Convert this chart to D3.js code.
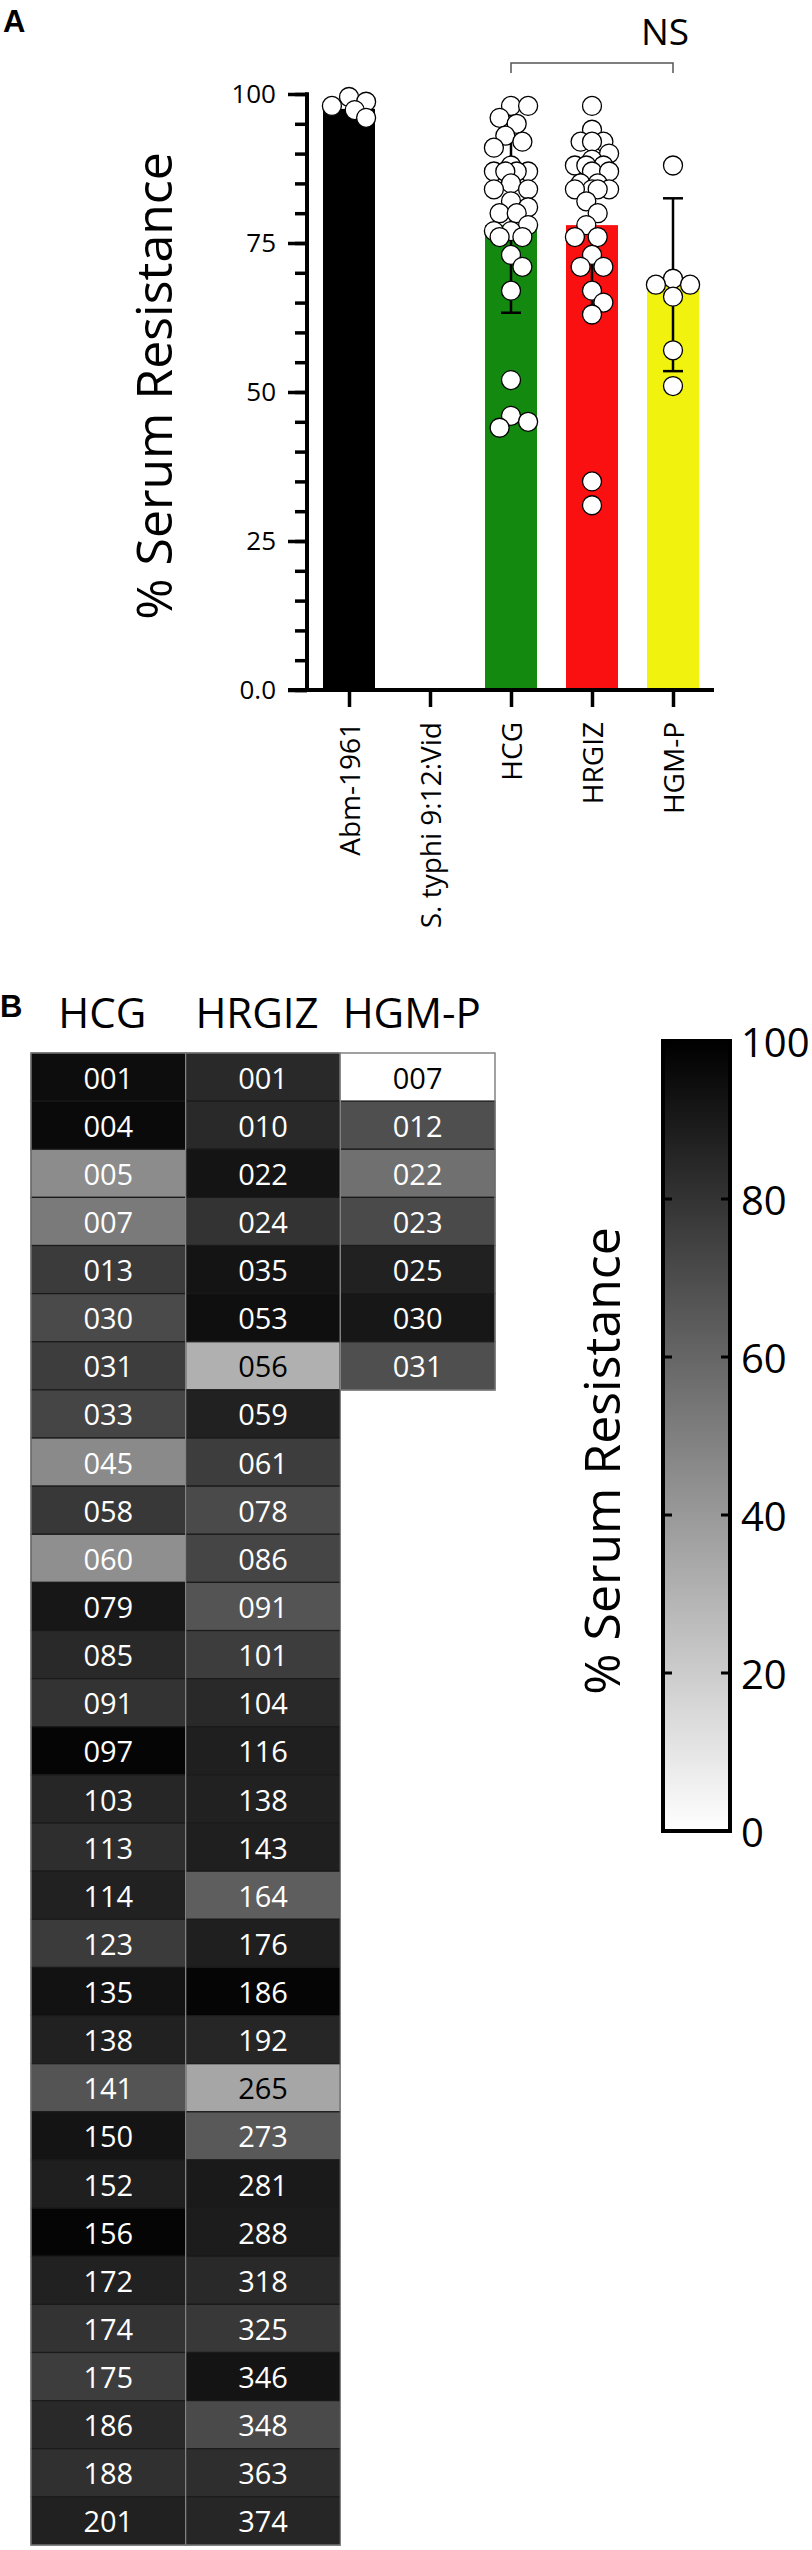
<!DOCTYPE html>
<html><head><meta charset="utf-8">
<script src="https://cdn.jsdelivr.net/npm/d3@7"></script>
<style>body{margin:0;background:#fff} svg{display:block}</style>
</head><body>
<script>
// ---------- Panel A data ----------
const categories = ["Abm-1961", "S. typhi 9:12:Vid", "HCG", "HRGIZ", "HGM-P"];
const barMeans = [97.5, 0, 78, 78, 68];
const barSD = [null, null, 14.7, 14.7, 14.5];
const barColors = ["#000000", "#ffffff", "#138a0f", "#fa1010", "#f2f20f"];
const abmDots = [98, 96, 97.3, 98.7, 99.5];
const hgmpDots = [88, 69, 68, 68, 66, 57, 51];
const yTicksA = [0, 25, 50, 75, 100];
const yTickLabelsA = ["0.0", "25", "50", "75", "100"];

// ---------- Panel B data ----------
const groups = ["HCG", "HRGIZ", "HGM-P"];
const hcgIsolates = ["001","004","005","007","013","030","031","033","045","058","060","079","085","091","097","103","113","114","123","135","138","141","150","152","156","172","174","175","186","188","201"];
const hcgValues   = [95, 96, 45, 52, 77, 71, 76, 73, 46, 78, 44, 91, 84, 80, 98, 85, 82, 87, 77, 93, 87, 67, 92, 88, 98, 87, 80, 76, 84, 81, 87];
const hrgizIsolates = ["001","010","022","024","035","053","056","059","061","078","086","091","101","104","116","138","143","164","176","186","192","265","273","281","288","318","325","346","348","363","374"];
const hrgizValues   = [84, 84, 92, 80, 92, 94, 31, 87, 76, 71, 73, 67, 76, 84, 88, 87, 88, 63, 88, 98, 85, 35, 65, 90, 89, 84, 78, 92, 71, 82, 85];
const hgmpIsolates = ["007","012","022","023","025","030","031"];
const hgmpValues   = [0, 69, 56, 71, 87, 91, 69];
const colorbarTicks = [0, 20, 40, 60, 80, 100];

const FONT = "'Open Sans', 'Noto Sans', sans-serif";
const W = 812, H = 2550;
const svg = d3.select("body").append("svg").attr("width", W).attr("height", H)
  .style("font-family", FONT);

// ================= PANEL A =================
const y = d3.scaleLinear().domain([0, 100]).range([690, 94]);
const x = d3.scalePoint().domain(categories).range([349, 673]);
const barW = 52, R = 9.5;
const axisX = 307;

svg.append("text").attr("x", 3).attr("y", 32).text("A")
  .style("font-family", "'Liberation Sans', Arial, sans-serif").style("font-weight", "bold").style("font-size", "31px");

// bars
const gA = svg.append("g");
gA.selectAll("rect.bar").data(categories).join("rect")
  .attr("x", d => x(d) - barW / 2).attr("width", barW)
  .attr("y", (d, i) => y(barMeans[i])).attr("height", (d, i) => y(0) - y(barMeans[i]))
  .attr("fill", (d, i) => barColors[i]);

// error bars
categories.forEach((c, i) => {
  if (barSD[i] == null) return;
  const lo = y(barMeans[i] - barSD[i]), hi = y(barMeans[i] + barSD[i]);
  const g = gA.append("g").attr("stroke", "#000").attr("stroke-width", 2.5);
  g.append("line").attr("x1", x(c)).attr("x2", x(c)).attr("y1", lo).attr("y2", hi);
  g.append("line").attr("x1", x(c) - 10).attr("x2", x(c) + 10).attr("y1", lo).attr("y2", lo);
  g.append("line").attr("x1", x(c) - 10).attr("x2", x(c) + 10).attr("y1", hi).attr("y2", hi);
});

// scatter with deterministic swarm layout
function swarm(values, cx, r, maxHalf) {
  const placed = [];
  const order = values.map((v, i) => ({ v, i })).sort((a, b) => b.v - a.v);
  const step = r * 0.6;
  order.forEach(p => {
    const py = y(p.v);
    let best = null, bestScore = -1;
    for (let k = 0; k < 30; k++) {
      const off = k === 0 ? 0 : ((k % 2) ? 1 : -1) * Math.ceil(k / 2) * step;
      if (Math.abs(off) > maxHalf) continue;
      const md = placed.length ? d3.min(placed, q => Math.hypot(q.x - (cx + off), q.y - py)) : 1e9;
      if (md >= r * 1.55) { best = off; break; }
      if (md > bestScore) { bestScore = md; best = off; }
    }
    placed.push({ x: cx + best, y: py, v: p.v });
  });
  return placed;
}
const dotSets = [abmDots, null, hcgValues, hrgizValues, hgmpDots];
categories.forEach((c, i) => {
  if (!dotSets[i]) return;
  const pts = swarm(dotSets[i], x(c), R, 19);
  gA.append("g").selectAll("circle").data(pts).join("circle")
    .attr("cx", d => d.x).attr("cy", d => d.y).attr("r", R)
    .attr("fill", "#fff").attr("stroke", "#000").attr("stroke-width", 1.3);
});

// y axis: minor + major ticks
const gY = svg.append("g").attr("transform", `translate(${axisX},0)`);
gY.call(d3.axisLeft(y).tickValues(d3.range(0, 101, 5)).tickSize(12).tickFormat(""));
gY.selectAll(".tick line").attr("stroke-width", 3.5);
const gY2 = svg.append("g").attr("transform", `translate(${axisX},0)`);
gY2.call(d3.axisLeft(y).tickValues(yTicksA).tickSize(19).tickPadding(12)
  .tickFormat((d, i) => yTickLabelsA[i]));
gY2.selectAll(".tick line").attr("stroke-width", 3.5);
gY2.selectAll(".tick text").style("font-size", "26px").style("font-family", FONT);
gY.select(".domain").remove(); gY2.select(".domain").remove();
svg.append("line").attr("x1", axisX).attr("x2", axisX).attr("y1", y(100) - 1.75).attr("y2", y(0))
  .attr("stroke", "#000").attr("stroke-width", 4);

// x axis
svg.append("line").attr("x1", 288).attr("x2", 714).attr("y1", y(0)).attr("y2", y(0))
  .attr("stroke", "#000").attr("stroke-width", 4);
const gX = svg.append("g").attr("transform", `translate(0,${y(0)})`);
gX.call(d3.axisBottom(x).tickSize(17).tickFormat(""));
gX.select(".domain").remove();
gX.selectAll(".tick line").attr("stroke-width", 3.5);
svg.append("g").selectAll("text").data(categories).join("text")
  .attr("transform", d => `translate(${x(d)},722) rotate(-90)`)
  .attr("text-anchor", "end").attr("dominant-baseline", "central")
  .style("font-size", "28px").text(d => d);

// y title
svg.append("text").attr("transform", "translate(172,386) rotate(-90)")
  .attr("text-anchor", "middle").style("font-size", "50px").text("% Serum Resistance");

// NS bracket
const bY = 63;
svg.append("path")
  .attr("d", `M${x("HCG")},${bY + 10}V${bY}H${x("HGM-P")}V${bY + 10}`)
  .attr("fill", "none").attr("stroke", "#555").attr("stroke-width", 1.5);
svg.append("text").attr("x", x("HGM-P") - 8).attr("y", bY - 18).attr("text-anchor", "middle")
  .style("font-size", "37px").text("NS");

// ================= PANEL B =================
svg.append("text").attr("x", 0).attr("y", 1017).text("B")
  .style("font-family", "'Liberation Sans', Arial, sans-serif").style("font-weight", "bold").style("font-size", "31px");

const xb = d3.scaleBand().domain(groups).range([31, 495]);
const yb = d3.scaleBand().domain(d3.range(31)).range([1053, 2545]);
const gray = d3.scaleLinear().domain([0, 100]).range(["#ffffff", "#000000"]);

svg.append("g").selectAll("text").data(groups).join("text")
  .attr("x", d => xb(d) + xb.bandwidth() / 2 - 6).attr("y", 1028)
  .attr("text-anchor", "middle").style("font-size", "42px").text(d => d);

const cols = [
  { g: "HCG", ids: hcgIsolates, vals: hcgValues },
  { g: "HRGIZ", ids: hrgizIsolates, vals: hrgizValues },
  { g: "HGM-P", ids: hgmpIsolates, vals: hgmpValues }
];
const gB = svg.append("g");
cols.forEach(col => {
  const cells = col.ids.map((id, i) => ({ id, v: col.vals[i], i }));
  const gc = gB.append("g");
  gc.selectAll("rect").data(cells).join("rect")
    .attr("x", xb(col.g)).attr("width", xb.bandwidth())
    .attr("y", d => yb(d.i)).attr("height", yb.bandwidth())
    .attr("fill", d => gray(d.v)).attr("stroke", d => d.v < 10 ? "#999" : "#1a1a1a").attr("stroke-width", 1.2);
  gc.append("rect").attr("x", xb(col.g)).attr("width", xb.bandwidth())
    .attr("y", yb(0)).attr("height", yb.bandwidth() * cells.length)
    .attr("fill", "none").attr("stroke", "#8a8a8a").attr("stroke-width", 1.2);
  gc.selectAll("text").data(cells).join("text")
    .attr("x", xb(col.g) + xb.bandwidth() / 2).attr("y", d => yb(d.i) + yb.bandwidth() / 2)
    .attr("text-anchor", "middle").attr("dominant-baseline", "central")
    .style("font-size", "29px").attr("fill", d => d.v < 40 ? "#000" : "#fff").text(d => d.id);
});

// colorbar
const yc = d3.scaleLinear().domain([0, 100]).range([1831, 1041]);
const defs = svg.append("defs");
const grad = defs.append("linearGradient").attr("id", "cb").attr("x1", 0).attr("y1", 1).attr("x2", 0).attr("y2", 0);
colorbarTicks.forEach(t => grad.append("stop").attr("offset", t / 100).attr("stop-color", gray(t)));
const cbX = 663, cbW = 67;
svg.append("rect").attr("x", cbX).attr("width", cbW).attr("y", yc(100)).attr("height", yc(0) - yc(100))
  .attr("fill", "url(#cb)").attr("stroke", "#000").attr("stroke-width", 4);
const gC = svg.append("g");
colorbarTicks.filter(t => t > 0 && t < 100).forEach(t => {
  gC.append("line").attr("x1", cbX).attr("x2", cbX + 9).attr("y1", yc(t)).attr("y2", yc(t)).attr("stroke", "#000").attr("stroke-width", 3);
  gC.append("line").attr("x1", cbX + cbW - 9).attr("x2", cbX + cbW).attr("y1", yc(t)).attr("y2", yc(t)).attr("stroke", "#000").attr("stroke-width", 3);
});
gC.selectAll("text").data(colorbarTicks).join("text")
  .attr("x", 741).attr("y", d => yc(d)).attr("dominant-baseline", "central")
  .style("font-size", "40px").text(d => d);
svg.append("text").attr("transform", "translate(620,1461) rotate(-90)")
  .attr("text-anchor", "middle").style("font-size", "50px").text("% Serum Resistance");
</script>
</body></html>
